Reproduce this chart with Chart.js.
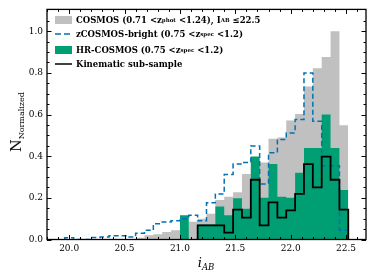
<!DOCTYPE html>
<html>
<head>
<meta charset="utf-8">
<script src="https://cdn.jsdelivr.net/npm/chart.js@4.4.1/dist/chart.umd.min.js"></script>
<style>
  html, body { margin: 0; padding: 0; background: #fff; }
  #wrap { position: relative; width: 374px; height: 280px; font-family: "DejaVu Serif", serif; color: #000; }
  #chart { position: absolute; left: 0; top: 0; }
  .row { position: absolute; left: 55px; height: 14px; line-height: 14px; white-space: nowrap;
         font-weight: bold; font-size: 8.5px; display: flex; align-items: center; }
  .handle { width: 17px; height: 14px; margin-right: 4px; flex: none; position: relative; }
  .patch { position: absolute; left: 0; top: 3px; width: 17px; height: 8px; }
  .row sub { font-size: 5.5px; vertical-align: -2px; line-height: 0; }
  #ytitle { position: absolute; left: 16px; top: 122px; transform: translate(-50%, -50%) rotate(-90deg);
            white-space: nowrap; font-size: 14.5px; }
  #ytitle sub { font-size: 8px; vertical-align: -3px; line-height: 0; }
  #xtitle { position: absolute; left: 206px; top: 262px; transform: translate(-50%, -50%);
            white-space: nowrap; font-size: 13px; font-style: italic; }
  #xtitle sub { font-size: 8.5px; vertical-align: -3px; line-height: 0; }
</style>
</head>
<body>
<div id="wrap">
  <canvas id="chart" width="374" height="280"></canvas>
  <div class="row" style="top:13px"><span class="handle"><span class="patch" style="background:#c0c0c0"></span></span>COSMOS (0.71 &lt;z<sub>phot</sub>&nbsp;&lt;1.24), I<sub>AB</sub>&nbsp;&le;22.5</div>
  <div class="row" style="top:27.3px"><span class="handle"><svg width="17" height="14"><line x1="0" y1="7" x2="17" y2="7" stroke="#0072B2" stroke-width="1.5" stroke-dasharray="6,3"/></svg></span>zCOSMOS-bright (0.75 &lt;z<sub>spec</sub>&nbsp;&lt;1.2)</div>
  <div class="row" style="top:43px"><span class="handle"><span class="patch" style="background:#009E73"></span></span>HR-COSMOS (0.75 &lt;z<sub>spec</sub>&nbsp;&lt;1.2)</div>
  <div class="row" style="top:57.3px"><span class="handle"><svg width="17" height="14"><line x1="0" y1="7" x2="17" y2="7" stroke="#000" stroke-width="1.5"/></svg></span>Kinematic sub-sample</div>
  <div id="ytitle">N<sub>Normalized</sub></div>
  <div id="xtitle">i<sub>AB</sub></div>
</div>
<script>
// bin edges of the i_AB histograms
const binEdges = [19.96, 20.04, 20.12, 20.20, 20.28, 20.36, 20.44, 20.52, 20.60, 20.68, 20.76,
  20.84, 20.92, 21.00, 21.08, 21.16, 21.24, 21.32, 21.40, 21.48, 21.56, 21.64, 21.72, 21.80,
  21.88, 21.96, 22.04, 22.12, 22.20, 22.28, 22.36, 22.44, 22.52];

// normalized counts per bin
const cosmos = [0, 0, 0, 0, 0, 0, 0, 0, 0.008, 0.02, 0.025, 0.036, 0.044, 0.06, 0.085, 0.1,
  0.124, 0.19, 0.205, 0.227, 0.314, 0.35, 0.37, 0.484, 0.49, 0.571, 0.603, 0.735, 0.822, 0.876, 1.0, 0.549];
const zcosmos = [0.008, 0, 0, 0.01, 0.012, 0.018, 0.018, 0.012, 0.03, 0.044, 0.076, 0.084, 0.09, 0.1,
  0.116, 0.09, 0.176, 0.219, 0.312, 0.362, 0.37, 0.449, 0.267, 0.417, 0.48, 0.512, 0.576, 0.8, 0.568, 0.354, 0.354, 0.044];
const hrcosmos = [0, 0, 0, 0, 0, 0, 0, 0, 0, 0, 0, 0, 0, 0.116, 0, 0.072, 0.072, 0.159, 0.116, 0.198,
  0.148, 0.398, 0.2, 0.362, 0.205, 0.2, 0.32, 0.44, 0.44, 0.6, 0.44, 0.238];
const kinematic = [0, 0, 0, 0, 0, 0, 0, 0, 0, 0, 0, 0, 0, 0, 0, 0.068, 0.068, 0.068, 0.033, 0.143,
  0.105, 0.287, 0.068, 0.178, 0.105, 0.14, 0.219, 0.362, 0.25, 0.398, 0.287, 0.143];

const xTicks = [20.0, 20.5, 21.0, 21.5, 22.0, 22.5];
const yTicks = [0.0, 0.2, 0.4, 0.6, 0.8, 1.0];

// turn per-bin values into points for a stepped outline
function stepPoints(values) {
  const first = values.findIndex(v => v > 0);
  let last = values.length - 1;
  while (last > first && values[last] === 0) last--;
  const pts = [{ x: binEdges[first], y: 0 }];
  for (let i = first; i <= last; i++) pts.push({ x: binEdges[i], y: values[i] });
  pts.push({ x: binEdges[last + 1], y: 0 });
  return pts;
}

const tickFont = { family: "DejaVu Serif", size: 9 };

// frame and inward ticks on all four sides
const frameTicks = {
  id: "frameTicks",
  afterDraw(chart) {
    const { ctx, chartArea: a, scales: { x, y } } = chart;
    ctx.save();
    ctx.strokeStyle = "#000";
    ctx.lineWidth = 1;
    ctx.beginPath();
    for (let v = 19.8; v <= 22.68; v += 0.1) {
      const px = Math.round(x.getPixelForValue(v)) + 0.5;
      const major = Math.abs(v * 2 - Math.round(v * 2)) < 1e-6;
      const len = major ? 4.5 : 2.5;
      ctx.moveTo(px, a.bottom); ctx.lineTo(px, a.bottom - len);
      ctx.moveTo(px, a.top); ctx.lineTo(px, a.top + len);
    }
    for (let v = 0; v <= 1.1; v += 0.05) {
      const py = Math.round(y.getPixelForValue(v)) + 0.5;
      const major = Math.abs(v * 5 - Math.round(v * 5)) < 1e-6;
      const len = major ? 4.5 : 2.5;
      ctx.moveTo(a.left, py); ctx.lineTo(a.left + len, py);
      ctx.moveTo(a.right, py); ctx.lineTo(a.right - len, py);
    }
    ctx.stroke();
    ctx.lineWidth = 1.3;
    ctx.strokeRect(a.left, a.top, a.right - a.left, a.bottom - a.top);
    ctx.restore();
  }
};

new Chart(document.getElementById("chart"), {
  type: "line",
  data: {
    datasets: [
      { label: "COSMOS", data: stepPoints(cosmos), stepped: "before", fill: "origin",
        backgroundColor: "#c0c0c0", borderColor: "rgba(0,0,0,0)", borderWidth: 0, pointRadius: 0, order: 4 },
      { label: "HR-COSMOS", data: stepPoints(hrcosmos), stepped: "before", fill: "origin",
        backgroundColor: "#009E73", borderColor: "rgba(0,0,0,0)", borderWidth: 0, pointRadius: 0, order: 3 },
      { label: "zCOSMOS-bright", data: stepPoints(zcosmos), stepped: "before", fill: false,
        borderColor: "#0072B2", borderWidth: 1.5, borderDash: [5, 3], pointRadius: 0, order: 2 },
      { label: "Kinematic sub-sample", data: stepPoints(kinematic), stepped: "before", fill: false,
        borderColor: "#000", borderWidth: 1.8, pointRadius: 0, order: 1 }
    ]
  },
  options: {
    responsive: false,
    animation: false,
    layout: { padding: { top: 7, right: 8, left: 0, bottom: 0 } },
    plugins: { legend: { display: false }, tooltip: { enabled: false } },
    scales: {
      x: {
        type: "linear", min: 19.8, max: 22.68,
        grid: { display: false, drawTicks: false }, border: { display: false },
        afterBuildTicks: s => { s.ticks = xTicks.map(v => ({ value: v })); },
        afterFit: s => { s.height = 40.5; },
        ticks: { font: tickFont, color: "#000", padding: 4, maxRotation: 0, callback: v => v.toFixed(1) }
      },
      y: {
        min: 0, max: 1.105,
        grid: { display: false, drawTicks: false }, border: { display: false },
        afterBuildTicks: s => { s.ticks = yTicks.map(v => ({ value: v })); },
        afterFit: s => { s.width = 47; },
        ticks: { font: tickFont, color: "#000", padding: 4, callback: v => v.toFixed(1) }
      }
    }
  },
  plugins: [frameTicks]
});
</script>
</body>
</html>
